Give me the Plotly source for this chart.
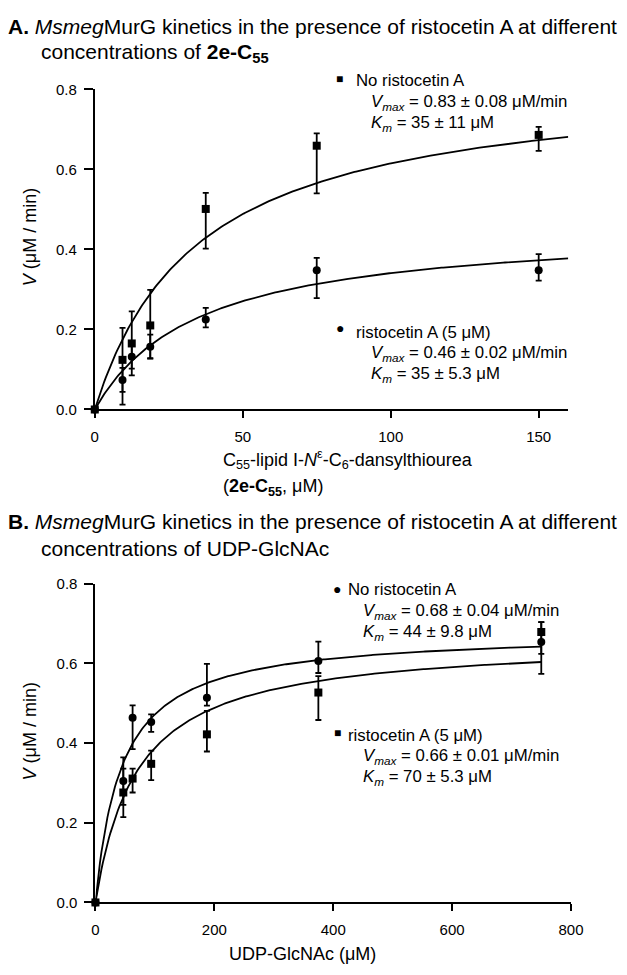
import numpy as np
import plotly.graph_objects as go

W, H = 627, 975

# ---------------- data ----------------
# Panel A: 2e-C55 (uM)
x_top = [0, 9.375, 12.5, 18.75, 37.5, 75, 150]
top_no_v = [0, 0.124, 0.165, 0.21, 0.501, 0.659, 0.686]
top_no_plus = [0, 0.08, 0.08, 0.089, 0.04, 0.031, 0.02]
top_no_minus = [0, 0.08, 0.08, 0.082, 0.099, 0.119, 0.04]
top_ris_v = [0, 0.074, 0.132, 0.157, 0.225, 0.348, 0.348]
top_ris_plus = [0, 0.03, 0.03, 0.03, 0.029, 0.031, 0.04]
top_ris_minus = [0, 0.062, 0.03, 0.03, 0.02, 0.07, 0.026]
top_fit_vmax = [0.83, 0.46]
top_fit_km = [35, 35]

# Panel B: UDP-GlcNAc (uM)
x_bot = [0, 46.875, 62.5, 93.75, 187.5, 375, 750]
bot_no_v = [0, 0.305, 0.464, 0.453, 0.514, 0.606, 0.654]
bot_no_plus = [0, 0.059, 0.031, 0.019, 0.085, 0.049, 0.05]
bot_no_minus = [0, 0.06, 0.079, 0.025, 0.02, 0.03, 0.08]
bot_ris_v = [0, 0.276, 0.311, 0.348, 0.422, 0.527, 0.679]
bot_ris_plus = [0, 0.06, 0.025, 0.033, 0.059, 0.041, 0.025]
bot_ris_minus = [0, 0.062, 0.035, 0.041, 0.043, 0.069, 0.055]
bot_fit_vmax = [0.68, 0.66]
bot_fit_km = [44, 70]

y_ticks = [0.0, 0.2, 0.4, 0.6, 0.8]
y_ticklabels = ["0.0", "0.2", "0.4", "0.6", "0.8"]
x_top_ticks = [0, 50, 100, 150]
x_bot_ticks = [0, 200, 400, 600, 800]

FONT = "Liberation Sans, Arial, sans-serif"

fig = go.Figure()

def px_x(p):
    return p / W

def px_y(p):
    return 1 - p / H

def add_points(x, y, plus, minus, symbol, xa, ya):
    fig.add_trace(go.Scatter(
        x=x, y=y, mode="markers", xaxis=xa, yaxis=ya, cliponaxis=False,
        marker=dict(symbol=symbol, size=8, color="black"),
        error_y=dict(type="data", symmetric=False, array=plus, arrayminus=minus,
                     color="black", thickness=1.8, width=3),
        showlegend=False, hoverinfo="skip"))

def add_fit(vmax, km, xmax, xa, ya):
    s = np.linspace(0, xmax, 300)
    v = vmax * s / (km + s)
    fig.add_trace(go.Scatter(x=s, y=v, mode="lines", xaxis=xa, yaxis=ya,
                             line=dict(color="black", width=1.8), cliponaxis=False,
                             showlegend=False, hoverinfo="skip"))

# Panel A
add_fit(top_fit_vmax[0], top_fit_km[0], 160, "x", "y")
add_fit(top_fit_vmax[1], top_fit_km[1], 160, "x", "y")
add_points(x_top, top_no_v, top_no_plus, top_no_minus, "square", "x", "y")
add_points(x_top, top_ris_v, top_ris_plus, top_ris_minus, "circle", "x", "y")

# Panel B
add_fit(bot_fit_vmax[0], bot_fit_km[0], 750, "x2", "y2")
add_fit(bot_fit_vmax[1], bot_fit_km[1], 750, "x2", "y2")
add_points(x_bot, bot_no_v, bot_no_plus, bot_no_minus, "circle", "x2", "y2")
add_points(x_bot, bot_ris_v, bot_ris_plus, bot_ris_minus, "square", "x2", "y2")

axis_common = dict(showline=True, linecolor="black", linewidth=2, ticks="outside",
                   ticklen=7, tickwidth=2, tickcolor="black", showgrid=False,
                   zeroline=False, tickfont=dict(family=FONT, size=15, color="black"))

fig.update_layout(
    width=W, height=H, paper_bgcolor="white", plot_bgcolor="white",
    margin=dict(l=0, r=0, t=0, b=0),
    xaxis=dict(domain=[px_x(93.3), px_x(580)], range=[0, 160], anchor="y",
               tickvals=x_top_ticks, ticklabelstandoff=6, **axis_common),
    yaxis=dict(domain=[px_y(407.6), px_y(81.7)], range=[0, 0.8], anchor="x",
               tickvals=y_ticks, ticktext=y_ticklabels, ticklabelstandoff=4,
               **{**axis_common, "ticklen": 9}),
    xaxis2=dict(domain=[px_x(94), px_x(582.8)], range=[0, 800], anchor="y2",
                tickvals=x_bot_ticks, ticklabelstandoff=6, **axis_common),
    yaxis2=dict(domain=[px_y(909.3), px_y(585)], range=[0, 0.8], anchor="x2",
                tickvals=y_ticks, ticktext=y_ticklabels, ticklabelstandoff=4,
                **{**axis_common, "ticklen": 9}),
)

def ann(text, x, y, size=16, xanchor="left", angle=0):
    fig.add_annotation(text=text, x=px_x(x), y=px_y(y), xref="paper", yref="paper",
                       xanchor=xanchor, yanchor="middle", showarrow=False,
                       textangle=angle, borderpad=0,
                       font=dict(family=FONT, size=size, color="black"))

TS = 21
# Titles
ann("<b>A.</b> <i>Msmeg</i>MurG kinetics in the presence of ristocetin A at different", 3, 18, size=TS)
ann("concentrations of <b>2e-C<sub>55</sub></b>", 37, 45, size=TS)
ann("<b>B.</b> <i>Msmeg</i>MurG kinetics in the presence of ristocetin A at different", 3, 522, size=TS)
ann("concentrations of UDP-GlcNAc", 37, 549, size=TS)

# Y-axis titles
ann("<i>V</i> (μM / min)", 27, 232, size=18, xanchor="center", angle=-90)
ann("<i>V</i> (μM / min)", 27, 735, size=18, xanchor="center", angle=-90)

# X-axis titles
ann("C<sub>55</sub>-lipid I-<i>N</i><sup>ε</sup>-C<sub>6</sub>-dansylthiourea", 224, 459, size=18)
ann("(<b>2e-C<sub>55</sub></b>, μM)", 224, 487, size=18)
ann("UDP-GlcNAc (μM)", 307, 962, size=18, xanchor="center")

VM = "<i>V</i><sub><i>max</i></sub>"
KM = "<i>K</i><sub><i>m</i></sub>"
LS = 16.8

# Panel A legends
ann("■", 340, 71, size=12)
ann("No ristocetin A", 361, 73, size=LS)
ann(VM + " = 0.83 ± 0.08 μM/min", 376, 95, size=LS)
ann(KM + " = 35 ± 11 μM", 376, 117, size=LS)
ann("●", 340, 325, size=14)
ann("ristocetin A (5 μM)", 361, 329, size=LS)
ann(VM + " = 0.46 ± 0.02 μM/min", 376, 351, size=LS)
ann(KM + " = 35 ± 5.3 μM", 376, 372, size=LS)

# Panel B legends
ann("●", 337, 590, size=14)
ann("No ristocetin A", 353, 591, size=LS)
ann(VM + " = 0.68 ± 0.04 μM/min", 368, 613, size=LS)
ann(KM + " = 44 ± 9.8 μM", 368, 635, size=LS)
ann("■", 338, 737, size=12)
ann("ristocetin A (5 μM)", 353, 739, size=LS)
ann(VM + " = 0.66 ± 0.01 μM/min", 368, 761, size=LS)
ann(KM + " = 70 ± 5.3 μM", 368, 782, size=LS)

fig.write_html("out.html", config={"displayModeBar": False},
               post_script="document.body.style.margin='0';")
